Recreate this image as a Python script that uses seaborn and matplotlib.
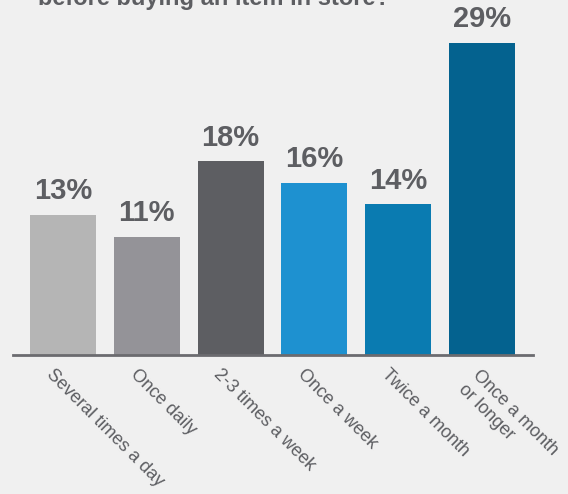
import matplotlib
matplotlib.use("Agg")
import matplotlib.pyplot as plt
import matplotlib.transforms as mtransforms
import seaborn as sns
import pandas as pd

# Survey answers: how often respondents check before buying in store
categories = ["Several times a day", "Once daily", "2-3 times a week",
              "Once a week", "Twice a month", "Once a month\nor longer"]
shares = [13, 11, 18, 16, 14, 29]
bar_colors = ["#b5b5b5", "#949398", "#5d5e62", "#1e91d0", "#0a7bb1", "#04628f"]
title_text = "before buying an item in store?"

bg = "#f0f0f0"
text_gray = "#5d5e62"

sns.set_theme(style="white")
plt.rcParams["font.family"] = ["Liberation Sans", "DejaVu Sans"]

df = pd.DataFrame({"category": categories, "share": shares})

fig = plt.figure(figsize=(5.68, 4.94), dpi=100, facecolor=bg)
ax = fig.add_axes([13 / 568, 139 / 494, (533 - 13) / 568, 355 / 494])
ax.set_facecolor(bg)

sns.barplot(data=df, x="category", y="share", hue="category",
            palette=bar_colors, width=0.787, saturation=1,
            linewidth=0, legend=False, ax=ax)

ax.set_ylim(0, 33)
ax.set_xlim(-0.597, 5.61)
ax.set_yticks([])
ax.set_xlabel("")
ax.set_ylabel("")

for side in ["top", "right", "left"]:
    ax.spines[side].set_visible(False)
ax.spines["bottom"].set_color("#6b6b6f")
ax.spines["bottom"].set_linewidth(2)

# value labels above each bar
for i, v in enumerate(shares):
    ax.annotate(f"{v}%", (i, v), xytext=(0, 7), textcoords="offset points",
                ha="center", va="bottom", fontsize=21, fontweight="bold",
                color=text_gray)

# rotated category labels
ax.tick_params(axis="x", length=0, pad=0)
ax.set_xticks(range(len(categories)))
ax.set_xticklabels(categories, rotation=-45, ha="left", va="center",
                   rotation_mode="anchor", fontsize=13, color=text_gray,
                   multialignment="left")
for lbl in ax.get_xticklabels():
    dy = -18 if "\n" in lbl.get_text() else -12
    offset = mtransforms.ScaledTranslation(-10 / 72, dy / 72, fig.dpi_scale_trans)
    lbl.set_transform(lbl.get_transform() + offset)

fig.text(38 / 568, 1 - 5.5 / 494, title_text, ha="left", va="baseline",
         fontsize=17, fontweight="bold", color=text_gray)

fig.savefig("out.png", dpi=100, facecolor=bg)
